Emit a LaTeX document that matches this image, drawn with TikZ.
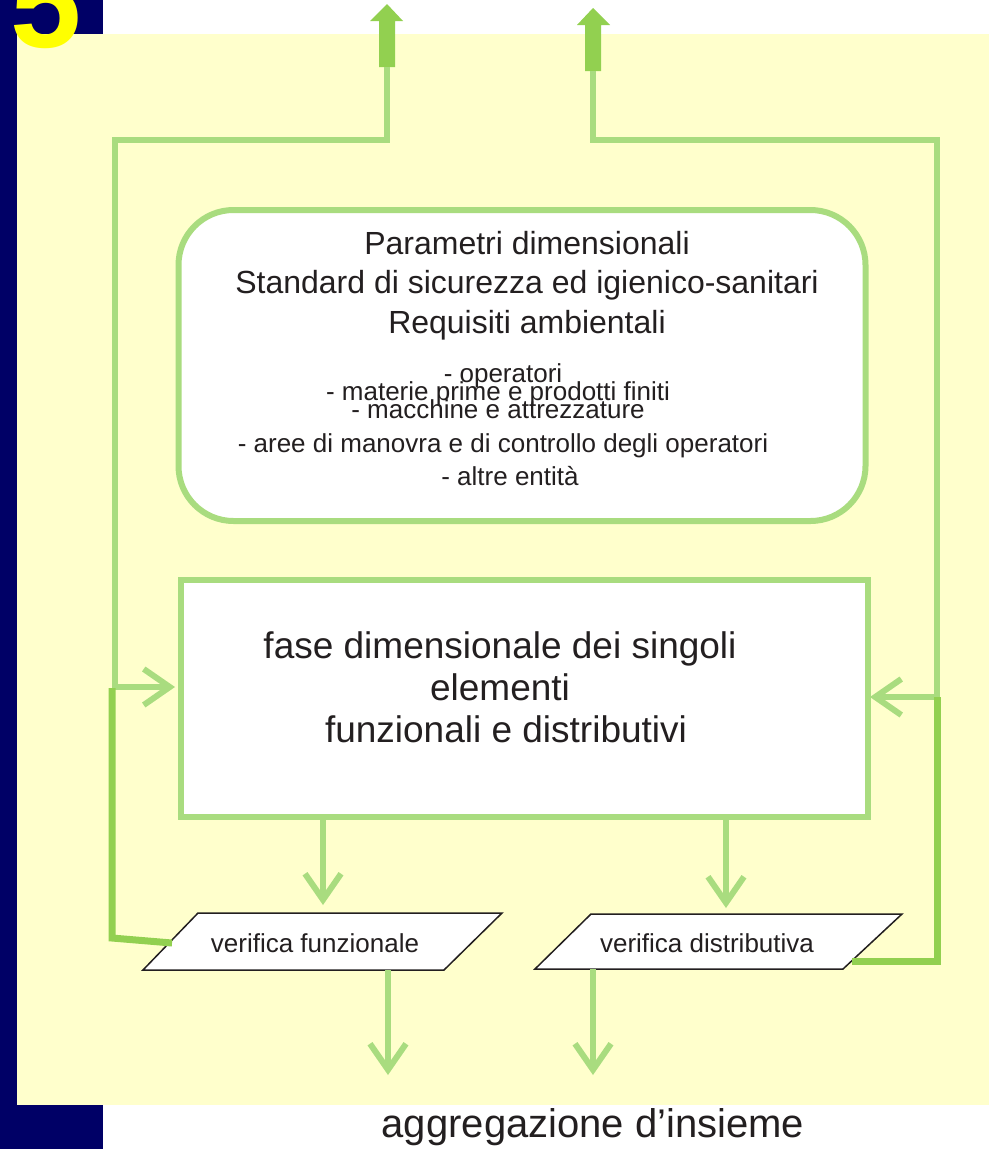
\documentclass[tikz,border=0pt]{standalone}
\usepackage{fontspec}
\setmainfont{Liberation Sans}
\usetikzlibrary{arrows.meta}
\definecolor{navy}{RGB}{0,0,102}
\definecolor{bgyellow}{RGB}{255,255,204}
\definecolor{lgreen}{RGB}{169,220,127}
\definecolor{dgreen}{RGB}{146,208,80}
\definecolor{ink}{RGB}{35,31,32}
\definecolor{numyellow}{RGB}{255,255,0}
\begin{document}
\begin{tikzpicture}[x=1pt,y=-1pt,
  lg/.style={draw=lgreen, line width=6pt},
  dg/.style={draw=dgreen, line width=7pt},
  vhead/.style={-{Straight Barb[length=26pt,width=36pt]}},
  txtbig/.style={anchor=base, inner sep=0pt, text=ink, font=\fontsize{32}{38}\selectfont},
  txtsmall/.style={anchor=base, inner sep=0pt, text=ink, font=\fontsize{26}{30}\selectfont},
  txtbox/.style={anchor=base, inner sep=0pt, text=ink, font=\fontsize{37}{42}\selectfont},
  roundbox/.style={draw=lgreen, line width=6pt, fill=white, rounded corners=55pt},
  sqbox/.style={draw=lgreen, line width=6pt, fill=white},
  para/.style={draw=ink, line width=1.5pt, fill=white, line join=miter},
  blockarrow/.style={fill=dgreen, draw=none}]
\useasboundingbox (0,0) rectangle (989,1149);
\clip (0,0) rectangle (989,1149);
% background
\fill[white] (0,0) rectangle (989,1149);
\fill[bgyellow] (17,34) rectangle (989,1105);
\fill[navy] (0,0) rectangle (103,34);
\fill[navy] (0,0) rectangle (17,1149);
\fill[navy] (0,1105) rectangle (103,1149);
\node[anchor=base west, inner sep=0pt, text=numyellow, font=\fontsize{128}{128}\selectfont\bfseries] (num) at (10,47) {5};

% boxes
\node[roundbox, minimum width=687pt, minimum height=311pt] (par) at (522,365.5) {};
\node[sqbox, minimum width=687pt, minimum height=237pt] (fase) at (524.5,698.5) {};

\node[txtbig] (p1) at (527,254) {Parametri dimensionali};
\node[txtbig] (p2) at (527,293.5) {Standard di sicurezza ed igienico-sanitari};
\node[txtbig] (p3) at (527,333) {Requisiti ambientali};
\node[txtsmall] (l1) at (503,382) {- operatori};
\node[txtsmall] (l2) at (498,400) {- materie prime e prodotti finiti};
\node[txtsmall] (l3) at (498,418) {- macchine e attrezzature};
\node[txtsmall] (l4) at (503,452) {- aree di manovra e di controllo degli operatori};
\node[txtsmall] (l5) at (510,485) {- altre entità};

\node[txtbox] (f1) at (500,658) {fase dimensionale dei singoli};
\node[txtbox] (f2) at (500,700) {elementi};
\node[txtbox] (f3) at (506,742) {funzionali e distributivi};

% parallelograms
\draw[para] (143,970) -- (198,913) -- (502,913) -- (444,970) -- cycle;
\draw[para] (535,969) -- (591,914) -- (902,914) -- (843,969) -- cycle;
\node[txtsmall] (vf) at (315,952) {verifica funzionale};
\node[txtsmall] (vd) at (707,952) {verifica distributiva};

\node[anchor=base, inner sep=0pt, text=ink, font=\fontsize{40}{45}\selectfont] (agg) at (593,1137) {aggregazione d’insieme};

% coordinates
\coordinate (aL) at (387,67);
\coordinate (kL) at (115,140);
\coordinate (iL) at (175,687);
\coordinate (aR) at (593,71);
\coordinate (kR) at (937,140);
\coordinate (iR) at (870,697);
\coordinate (dL) at (323,905);
\coordinate (dR) at (726,908);
\coordinate (sL) at (388,970);
\coordinate (bL) at (388,1075);
\coordinate (sR) at (593,969);
\coordinate (bR) at (593,1075);

% top block arrows
\fill[blockarrow] (379,67) -- (379,21) -- (370,21) -- (387,4) -- (403,21) -- (395,21) -- (395,67) -- cycle;
\fill[blockarrow] (585,71) -- (585,25) -- (577,25) -- (593,8) -- (610,25) -- (601,25) -- (601,71) -- cycle;

% connectors
\draw[lg, vhead] (aL) |- (kL) |- (iL);
\draw[lg, vhead] (aR) |- (kR) |- (iR);
\draw[lg, vhead] (fase.south -| dL) -- (dL);
\draw[lg, vhead] (fase.south -| dR) -- (dR);
\draw[lg, vhead] (sL) -- (bL);
\draw[lg, vhead] (sR) -- (bR);

% feedback lines
\draw[dg] (112,688) -- (112,938) -- (172,943);
\draw[dg] (937,697) -- (937,961) -- (852,961);
\end{tikzpicture}
\end{document}
